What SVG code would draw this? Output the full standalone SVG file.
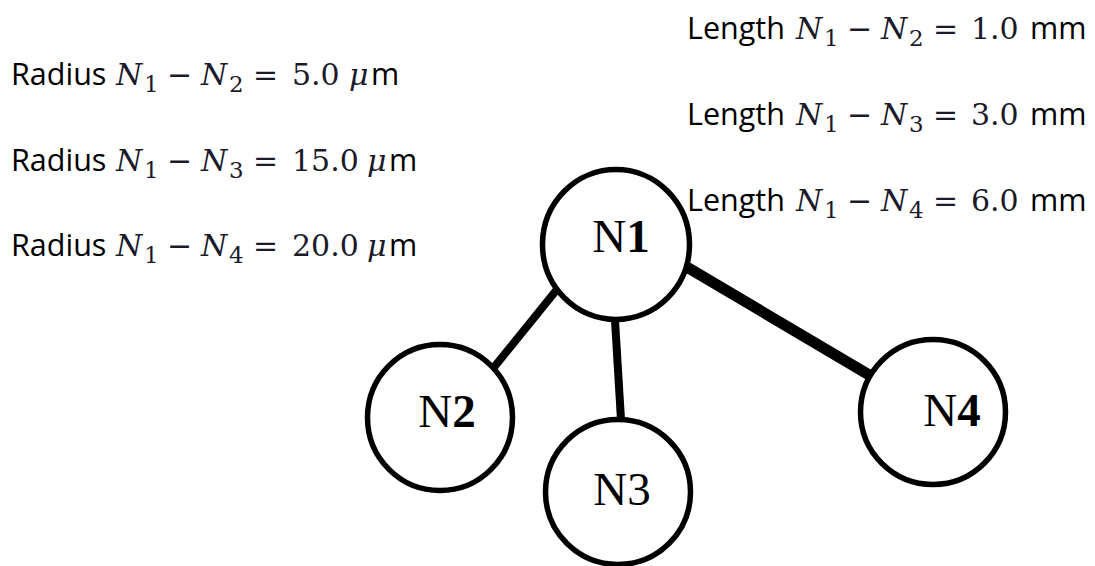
<svg xmlns="http://www.w3.org/2000/svg" width="1095" height="566" viewBox="0 0 1095 566">
<style>
.sans{font-family:"Open Sans","Liberation Sans",sans-serif;font-size:30.5px;fill:#000;font-style:normal}
.mi{font-family:"DejaVu Serif","Liberation Serif",serif;font-style:italic;font-size:30px;fill:#1a1a2a}
.mn{font-family:"DejaVu Serif","Liberation Serif",serif;font-style:normal;font-size:30px;fill:#1a1a2a}
.ms{font-family:"DejaVu Serif","Liberation Serif",serif;font-style:normal;font-size:23px;fill:#1a1a2a}
.node{fill:#fff;stroke:#000;stroke-width:5.5}
.nl{font-family:"Liberation Serif","Times New Roman",serif;font-size:47px;fill:#000;text-anchor:middle}
.edge{stroke:#000;stroke-linecap:butt}
</style>
<g id="radius-labels">
<text id="r1"><tspan class="sans" x="11" y="85">Radius</tspan><tspan class="mi" x="116" y="85">N</tspan><tspan class="ms" x="144" y="92">1</tspan><tspan class="mn" x="167" y="85">−</tspan><tspan class="mi" x="201" y="85">N</tspan><tspan class="ms" x="229" y="92">2</tspan><tspan class="mn" x="253" y="85">=</tspan><tspan class="mn" x="292" y="85">5.0</tspan><tspan class="mi" x="349" y="85">μ</tspan><tspan class="sans" x="371" y="85">m</tspan></text>
<text id="r2"><tspan class="sans" x="11" y="171">Radius</tspan><tspan class="mi" x="116" y="171">N</tspan><tspan class="ms" x="144" y="178">1</tspan><tspan class="mn" x="167" y="171">−</tspan><tspan class="mi" x="201" y="171">N</tspan><tspan class="ms" x="229" y="178">3</tspan><tspan class="mn" x="253" y="171">=</tspan><tspan class="mn" x="292" y="171">15.0</tspan><tspan class="mi" x="367" y="171">μ</tspan><tspan class="sans" x="389" y="171">m</tspan></text>
<text id="r3"><tspan class="sans" x="11" y="256">Radius</tspan><tspan class="mi" x="116" y="256">N</tspan><tspan class="ms" x="144" y="263">1</tspan><tspan class="mn" x="167" y="256">−</tspan><tspan class="mi" x="201" y="256">N</tspan><tspan class="ms" x="229" y="263">4</tspan><tspan class="mn" x="253" y="256">=</tspan><tspan class="mn" x="292" y="256">20.0</tspan><tspan class="mi" x="367" y="256">μ</tspan><tspan class="sans" x="389" y="256">m</tspan></text>
</g>
<g id="length-labels">
<text id="l1"><tspan class="sans" x="687" y="39">Length</tspan><tspan class="mi" x="796" y="39">N</tspan><tspan class="ms" x="824" y="46">1</tspan><tspan class="mn" x="847" y="39">−</tspan><tspan class="mi" x="881" y="39">N</tspan><tspan class="ms" x="909" y="46">2</tspan><tspan class="mn" x="933" y="39">=</tspan><tspan class="mn" x="971" y="39">1.0</tspan><tspan class="sans" x="1030" y="39">mm</tspan></text>
<text id="l2"><tspan class="sans" x="687" y="125">Length</tspan><tspan class="mi" x="796" y="125">N</tspan><tspan class="ms" x="824" y="132">1</tspan><tspan class="mn" x="847" y="125">−</tspan><tspan class="mi" x="881" y="125">N</tspan><tspan class="ms" x="909" y="132">3</tspan><tspan class="mn" x="933" y="125">=</tspan><tspan class="mn" x="971" y="125">3.0</tspan><tspan class="sans" x="1030" y="125">mm</tspan></text>
<text id="l3"><tspan class="sans" x="687" y="211">Length</tspan><tspan class="mi" x="796" y="211">N</tspan><tspan class="ms" x="824" y="218">1</tspan><tspan class="mn" x="847" y="211">−</tspan><tspan class="mi" x="881" y="211">N</tspan><tspan class="ms" x="909" y="218">4</tspan><tspan class="mn" x="933" y="211">=</tspan><tspan class="mn" x="971" y="211">6.0</tspan><tspan class="sans" x="1030" y="211">mm</tspan></text>
</g>
<g id="connectors">
<line class="edge" x1="563" y1="282" x2="491" y2="371" stroke-width="8"/>
<line class="edge" x1="614.5" y1="312" x2="621.5" y2="428" stroke-width="8"/>
<line class="edge" x1="680" y1="263" x2="876" y2="379" stroke-width="11"/>
</g>
<g id="N1">
<ellipse class="node" cx="616" cy="244.5" rx="73.5" ry="75"/>
<text class="nl" x="621" y="252">N<tspan font-weight="bold">1</tspan></text>
</g>
<g id="N2">
<ellipse class="node" cx="440" cy="417.5" rx="72.5" ry="73"/>
<text class="nl" x="447" y="427">N<tspan font-weight="bold">2</tspan></text>
</g>
<g id="N3">
<ellipse class="node" cx="618" cy="492" rx="72.5" ry="72.5"/>
<text class="nl" x="622" y="505">N3</text>
</g>
<g id="N4">
<ellipse class="node" cx="933" cy="412" rx="72.5" ry="72.5"/>
<text class="nl" x="952" y="426">N<tspan font-weight="bold">4</tspan></text>
</g>
</svg>
